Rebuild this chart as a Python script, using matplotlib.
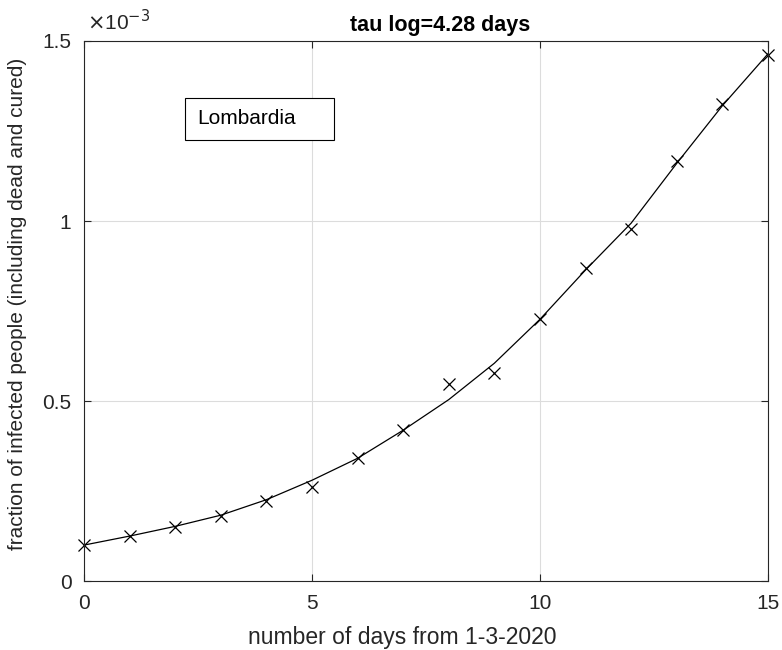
import matplotlib.pyplot as plt
from matplotlib.patches import Rectangle
from matplotlib.ticker import FuncFormatter

plt.rcParams['font.family'] = ['Liberation Sans', 'DejaVu Sans']

# dati: frazione di infetti (Lombardia), giorni dal 1-3-2020
days = list(range(16))
infected = [0.100e-3, 0.125e-3, 0.150e-3, 0.181e-3, 0.222e-3, 0.261e-3, 0.342e-3, 0.419e-3,
            0.547e-3, 0.578e-3, 0.728e-3, 0.869e-3, 0.978e-3, 1.167e-3, 1.325e-3, 1.461e-3]
# curva di fit
fit = [0.100e-3, 0.125e-3, 0.152e-3, 0.183e-3, 0.226e-3, 0.280e-3, 0.341e-3, 0.419e-3,
       0.504e-3, 0.605e-3, 0.727e-3, 0.864e-3, 0.994e-3, 1.160e-3, 1.320e-3, 1.464e-3]

fig = plt.figure(figsize=(7.82, 6.5), dpi=100)
ax = fig.add_axes([0.1074, 0.106, 0.8746, 0.831])

ax.plot(days, fit, color='k', lw=0.9)
ax.plot(days, infected, 'x', color='k', ms=8, mew=0.9, clip_on=False)

ax.set_xlim(0, 15)
ax.set_ylim(0, 1.5e-3)
ax.set_xticks([0, 5, 10, 15])
ax.set_yticks([0, 0.5e-3, 1e-3, 1.5e-3])
ax.yaxis.set_major_formatter(FuncFormatter(lambda v, p: f'{v * 1e3:g}'))
ax.tick_params(direction='in', labelsize=15, length=5, width=0.8, colors='#262626',
               top=True, right=True)
ax.tick_params(axis='y', pad=9)
ax.tick_params(axis='x', pad=9)
ax.grid(True, color='#dcdcdc', lw=0.8)
for s in ax.spines.values():
    s.set_color('#262626')
    s.set_linewidth(0.8)

ax.text(0.004, 1.012, r'$\times$10$^{-3}$', transform=ax.transAxes, fontsize=15,
        color='#262626', va='bottom', ha='left')
ax.set_title('tau log=4.28 days', fontsize=15.5, fontweight='bold', pad=7, x=0.52)
ax.set_xlabel('number of days from 1-3-2020', fontsize=16.5, color='#262626')
ax.xaxis.set_label_coords(0.466, -0.084)
ax.set_ylabel('fraction of infected people (including dead and cured)', fontsize=15,
              color='#262626')
ax.yaxis.set_label_coords(-0.083, 0.513)

# riquadro legenda
ax.add_patch(Rectangle((0.1477, 0.8167), 0.2178, 0.0778, transform=ax.transAxes,
                       fc='white', ec='k', lw=0.8, zorder=5))
ax.text(0.165, 0.8556, 'Lombardia', transform=ax.transAxes, fontsize=15,
        va='center', ha='left', zorder=6)

fig.savefig('out.png', dpi=100)
